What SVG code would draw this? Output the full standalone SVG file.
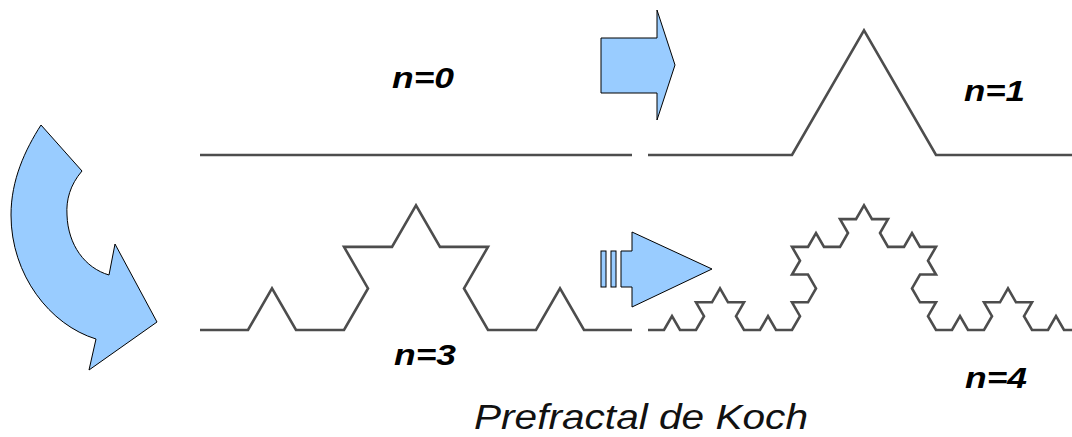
<svg xmlns="http://www.w3.org/2000/svg" width="1072" height="437" viewBox="0 0 1072 437">
<style>
.curve{fill:none;stroke:#4d4d4d;stroke-width:2.6;stroke-linejoin:miter}
.blue{fill:#99ccff;stroke:#000;stroke-width:1;stroke-linejoin:miter}
.lbl{font-family:"Liberation Sans",Arial,sans-serif;font-weight:bold;font-style:italic;font-size:30px;fill:#000}
.title{font-family:"Liberation Sans",Arial,sans-serif;font-style:italic;font-size:35px;fill:#111}
</style>
<rect width="1072" height="437" fill="#fff"/>
<g id="curves">
<path id="koch0" class="curve" d="M200,155 L632,155"/>
<path id="koch1" class="curve" d="M648,155 L792,155 L864,30.3 L936,155 L1080,155"/>
<path id="koch2" class="curve" d="M200,330 l48,0 24,-41.57 24,41.57 48,0 24,-41.57 -24,-41.57 48,0 24,-41.57 24,41.57 48,0 -24,41.57 24,41.57 48,0 24,-41.57 24,41.57 48,0"/>
<path id="koch3" class="curve" d="M648,330 l16,0 8,-13.86 8,13.86 16,0 8,-13.86 -8,-13.86 16,0 8,-13.86 8,13.86 16,0 -8,13.86 8,13.86 16,0 8,-13.86 8,13.86 16,0 8,-13.86 -8,-13.86 16,0 8,-13.86 -8,-13.86 -16,0 8,-13.86 -8,-13.86 16,0 8,-13.86 8,13.86 16,0 8,-13.86 -8,-13.86 16,0 8,-13.86 8,13.86 16,0 -8,13.86 8,13.86 16,0 8,-13.86 8,13.86 16,0 -8,13.86 8,13.86 -16,0 -8,13.86 8,13.86 16,0 -8,13.86 8,13.86 16,0 8,-13.86 8,13.86 16,0 8,-13.86 -8,-13.86 16,0 8,-13.86 8,13.86 16,0 -8,13.86 8,13.86 16,0 8,-13.86 8,13.86 16,0"/>
</g>
<g id="arrow-curved">
<path class="blue" d="M41,125 L82,171 C70,185 66,200 67,215 C68,245 85,268 109,275 L115,244 L157,322 L89,370 L96,339 C50,325 11,275 11,215 C11,180 25,150 41,125 Z"/>
</g>
<g id="arrow-top">
<path class="blue" d="M601,38 L657,38 L657,10 L675,65 L657,120 L657,93 L601,93 Z"/>
</g>
<g id="arrow-bottom">
<rect class="blue" x="601" y="251" width="5" height="36"/>
<rect class="blue" x="611" y="251" width="5" height="36"/>
<path class="blue" d="M621,251 L632,251 L632,232 L712,269 L632,307 L632,287 L621,287 Z"/>
</g>
<g id="labels">
<text class="lbl" x="392" y="88" textLength="62" lengthAdjust="spacingAndGlyphs">n=0</text>
<text class="lbl" x="964" y="101" textLength="61" lengthAdjust="spacingAndGlyphs">n=1</text>
<text class="lbl" x="394" y="365" textLength="62" lengthAdjust="spacingAndGlyphs">n=3</text>
<text class="lbl" x="965" y="388" textLength="62" lengthAdjust="spacingAndGlyphs">n=4</text>
<text class="title" x="474" y="429" textLength="334" lengthAdjust="spacingAndGlyphs">Prefractal de Koch</text>
</g>
</svg>
